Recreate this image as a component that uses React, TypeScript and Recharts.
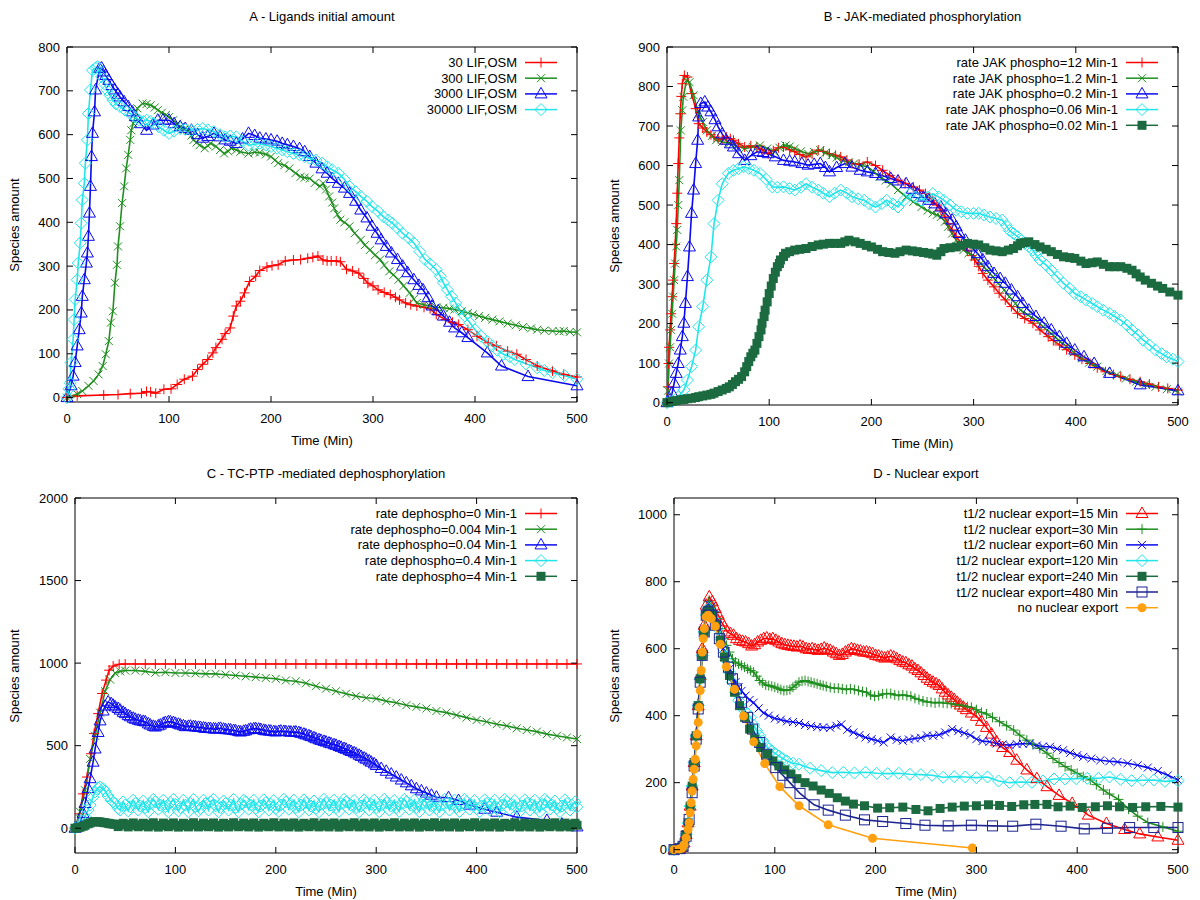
import React from 'react';
import { LineChart, Line, XAxis, YAxis, ReferenceArea, Legend } from 'recharts';

type P = [number, number];
type Shape = 'plus' | 'cross' | 'tri' | 'diamond' | 'fsquare' | 'osquare' | 'fcircle';

const FONT = '"Liberation Sans", Arial, Helvetica, sans-serif';
const RED = '#ff0000';
const GREEN = '#1f8f1f';
const BLUE = '#0a0af0';
const CYAN = '#22e5ea';
const DKGREEN = '#1c6b40';
const NAVY = '#1c2590';
const ORANGE = '#ffa010';

const X_TICKS = [0, 100, 200, 300, 400, 500];
const A_TICKS = [0, 100, 200, 300, 400, 500, 600, 700, 800];
const B_TICKS = [0, 100, 200, 300, 400, 500, 600, 700, 800, 900];
const C_TICKS = [0, 500, 1000, 1500, 2000];
const D_TICKS = [0, 200, 400, 600, 800, 1000];

// ---------- Panel A : Ligands initial amount ----------
const A_30: P[] = [[0,0],[10,4],[36,6],[50,7],[62,9],[73,10],[78,14],[82,13],[87,10],[95,19],[102,20],[108,30],[115,42],[123,49],[128,64],[133,76],[138,87],[143,102],[146,114],[152,133],[155,146],[160,159],[163,186],[166,209],[170,220],[174,239],[179,265],[185,277],[189,290],[196,298],[201,301],[207,303],[214,312],[222,314],[229,315],[236,318],[241,320],[246,323],[251,314],[255,312],[259,312],[264,312],[268,310],[274,293],[280,289],[286,284],[291,272],[295,261],[300,255],[305,246],[311,240],[317,235],[322,229],[326,223],[332,216],[337,212],[343,209],[350,206],[356,203],[362,190],[371,178],[378,172],[384,167],[393,155],[402,140],[413,125],[421,118],[432,106],[441,99],[450,87],[461,72],[476,61],[487,53],[500,47]];
const A_300: P[] = [[0,0],[10,8],[15,15],[21,27],[26,38],[31,53],[35,72],[38,99],[41,129],[43,171],[45,197],[47,262],[49,303],[50,345],[52,391],[54,444],[56,482],[58,523],[60,554],[62,588],[63,610],[65,626],[69,660],[74,671],[78,670],[82,667],[86,662],[89,656],[93,650],[97,645],[100,640],[104,633],[108,625],[111,618],[115,612],[119,610],[122,598],[124,588],[127,582],[130,576],[135,569],[138,575],[141,580],[146,573],[150,565],[154,557],[158,562],[161,569],[166,565],[170,561],[178,557],[184,560],[189,559],[195,555],[200,550],[204,542],[207,535],[213,530],[218,523],[224,512],[229,504],[233,502],[238,500],[243,490],[248,482],[251,489],[254,475],[257,459],[260,445],[262,432],[265,418],[268,406],[272,400],[277,391],[282,375],[288,360],[292,348],[297,337],[302,325],[307,315],[311,302],[316,288],[320,280],[325,269],[330,255],[336,239],[340,225],[343,216],[350,212],[356,209],[362,206],[369,205],[375,203],[380,201],[387,197],[393,193],[398,190],[404,186],[410,182],[417,178],[424,174],[432,169],[440,165],[447,161],[455,158],[461,155],[468,153],[476,152],[483,151],[487,152],[493,150],[500,149]];
const A_3000: P[] = [[0,0],[4,27],[6,49],[8,80],[10,118],[12,155],[14,193],[15,231],[17,269],[19,307],[20,330],[21,368],[22,421],[23,482],[24,550],[25,603],[27,652],[28,702],[32,751],[34,752],[36,743],[38,735],[41,724],[44,712],[47,702],[50,692],[52,686],[56,675],[60,664],[64,652],[67,641],[72,625],[78,610],[84,622],[89,633],[94,633],[100,633],[105,625],[111,618],[116,614],[122,610],[128,600],[133,592],[138,596],[144,603],[150,595],[155,588],[160,585],[166,580],[172,590],[178,603],[184,598],[189,592],[195,590],[200,588],[206,585],[211,580],[216,577],[222,573],[228,568],[233,561],[238,550],[244,535],[250,522],[255,512],[260,500],[266,489],[272,478],[277,466],[283,448],[288,428],[294,410],[299,391],[304,375],[308,360],[313,345],[318,330],[324,315],[329,300],[334,285],[340,269],[345,256],[349,246],[354,228],[358,209],[364,198],[369,186],[375,172],[380,159],[387,148],[393,137],[412,102],[426,72],[452,48],[500,27]];
const A_30000: P[] = [[0,0],[2,20],[3,34],[4,80],[6,133],[7,178],[8,224],[10,269],[11,307],[13,353],[14,398],[15,451],[17,489],[18,535],[20,588],[21,648],[23,702],[25,747],[28,752],[30,755],[34,732],[37,715],[39,702],[42,690],[45,679],[48,670],[52,664],[57,656],[62,648],[67,640],[71,633],[75,630],[78,633],[82,630],[85,626],[90,618],[95,610],[100,603],[105,608],[111,614],[116,612],[122,610],[128,612],[133,614],[138,611],[144,607],[150,600],[155,595],[160,597],[166,595],[172,585],[178,576],[184,578],[189,580],[195,576],[200,573],[206,569],[211,565],[216,561],[222,557],[228,554],[233,550],[238,546],[244,542],[250,535],[255,527],[260,520],[266,512],[272,498],[277,482],[283,470],[288,459],[294,448],[299,436],[305,425],[310,413],[315,405],[319,398],[324,387],[329,375],[335,364],[340,353],[346,333],[351,315],[356,305],[362,292],[366,277],[369,262],[373,246],[377,231],[381,216],[384,201],[390,186],[395,171],[400,155],[406,140],[412,128],[417,118],[422,108],[428,99],[434,93],[439,87],[450,77],[461,68],[468,62],[476,57],[488,50],[500,42]];

// ---------- Panel B : JAK-mediated phosphorylation ----------
const B_12: P[] = [[0,0],[1,40],[1.5,99],[2,140],[3,184],[4,225],[5,268],[6,310],[7,352],[8,400],[9,453],[10,530],[11,605],[12,670],[13,731],[14,775],[15,807],[17,828],[20,824],[24,782],[28,744],[31,706],[35,695],[39,685],[43,678],[46,672],[50,668],[54,665],[58,672],[62,668],[65,664],[70,655],[76,647],[82,650],[88,647],[93,640],[99,630],[104,638],[109,645],[114,647],[120,640],[125,635],[130,628],[136,622],[142,630],[148,639],[153,636],[159,630],[165,626],[170,622],[176,614],[181,605],[188,603],[196,609],[204,600],[211,588],[218,575],[226,563],[233,555],[241,546],[247,538],[253,529],[257,520],[260,512],[264,500],[268,487],[272,470],[275,453],[279,437],[283,420],[288,403],[294,386],[298,372],[301,361],[305,345],[309,327],[314,310],[320,293],[325,277],[331,260],[337,243],[343,226],[350,213],[358,201],[365,184],[373,167],[378,157],[384,146],[391,134],[399,121],[406,110],[414,99],[421,88],[429,78],[437,71],[444,66],[453,59],[463,53],[472,47],[481,40],[490,36],[500,32]];
const B_1_2: P[] = [[0,0],[1,30],[2,99],[3,140],[4,184],[5,225],[6,268],[7,310],[8,352],[9,395],[10,437],[11,500],[12,563],[13.5,689],[15,740],[16,774],[19,815],[22,811],[26,778],[31,731],[35,710],[39,689],[44,675],[48,664],[54,660],[61,656],[68,650],[76,643],[84,647],[91,651],[98,643],[105,635],[110,645],[116,651],[120,648],[125,643],[131,636],[138,630],[144,634],[150,639],[155,632],[161,626],[166,620],[172,613],[178,608],[183,605],[190,600],[196,597],[202,585],[208,571],[214,562],[219,554],[226,538],[234,521],[241,508],[249,495],[255,486],[260,479],[264,475],[268,470],[272,458],[275,445],[279,428],[283,411],[287,398],[290,386],[295,378],[301,369],[307,352],[313,335],[319,318],[324,302],[330,285],[335,268],[341,251],[346,234],[353,222],[361,209],[368,192],[376,175],[383,158],[391,142],[398,127],[406,112],[413,101],[421,91],[430,80],[440,70],[449,61],[459,53],[468,46],[478,40],[489,34],[500,28]];
const B_0_2: P[] = [[0,0],[3,7],[5,24],[7,49],[9,74],[11,99],[13,133],[15,167],[16.5,201],[18,251],[20,319],[22,394],[24,479],[26,538],[28,605],[30,664],[31,723],[33,757],[37,761],[40,748],[43,736],[47,716],[50,698],[54,680],[58,664],[62,655],[65,647],[70,630],[76,613],[82,625],[88,635],[94,633],[99,630],[106,622],[114,613],[120,611],[125,609],[132,605],[138,601],[144,603],[150,605],[155,595],[159,584],[166,595],[174,605],[181,596],[189,588],[196,584],[204,580],[211,574],[219,567],[226,561],[234,554],[240,540],[245,529],[251,520],[256,512],[262,503],[268,495],[273,478],[279,462],[283,445],[286,428],[292,411],[298,394],[304,377],[309,361],[314,344],[320,327],[326,314],[331,302],[337,285],[343,268],[348,251],[354,234],[361,218],[369,201],[376,184],[384,167],[391,150],[399,133],[408,116],[418,99],[433,74],[463,45],[500,30]];
const B_0_06: P[] = [[0,0],[5,3],[11,15],[16.5,32],[20,57],[24,91],[28,133],[31,192],[35,243],[39,310],[43,369],[46,453],[50,512],[54,554],[60,580],[65,588],[70,592],[75,597],[80,593],[85,588],[91,580],[97,565],[103,546],[108,545],[114,546],[120,542],[125,538],[131,545],[136,554],[142,545],[148,538],[153,530],[159,521],[164,530],[170,538],[176,530],[181,521],[187,516],[193,512],[198,503],[204,495],[210,503],[215,512],[221,503],[226,495],[232,512],[238,529],[243,520],[249,512],[255,520],[260,529],[266,520],[271,512],[277,500],[283,487],[288,483],[294,479],[300,479],[305,479],[310,475],[316,470],[322,466],[328,462],[332,448],[335,436],[339,428],[343,420],[347,411],[350,403],[354,395],[358,386],[361,374],[365,361],[371,348],[376,335],[382,318],[388,302],[394,289],[399,276],[405,268],[410,260],[416,251],[421,243],[427,234],[433,226],[438,218],[444,209],[450,196],[455,184],[461,171],[466,158],[472,146],[478,133],[484,124],[489,116],[495,110],[500,104]];
const B_0_02: P[] = [[0,0],[5,3],[9,5],[13,7],[16.5,8],[20,10],[24,11],[28,13],[31,15],[35,17],[39,19],[43,21],[46,24],[50,28],[54,32],[58,36],[61,40],[64,46],[67,53],[70,59],[73,66],[76,78],[78,91],[80,104],[82,116],[84,125],[86,133],[88,150],[90,167],[92,184],[93,201],[95,218],[96,234],[98,255],[100,276],[102,295],[104,314],[106,330],[108,344],[110,352],[111,361],[114,370],[116,378],[120,382],[125,386],[130,388],[136,390],[142,395],[148,399],[153,401],[159,403],[164,403],[170,403],[174,407],[178,411],[184,407],[189,403],[195,398],[200,394],[206,388],[211,382],[217,380],[223,378],[228,382],[234,386],[240,384],[245,382],[251,380],[256,378],[260,376],[264,373],[268,382],[271,390],[277,392],[283,394],[288,398],[294,403],[300,401],[305,399],[311,392],[316,386],[322,384],[328,382],[334,386],[339,390],[343,397],[346,403],[350,405],[354,407],[360,400],[365,394],[371,388],[376,382],[382,375],[388,369],[394,367],[399,365],[405,358],[410,352],[416,354],[421,356],[427,350],[433,344],[438,344],[444,344],[450,340],[455,335],[459,326],[463,318],[468,310],[474,302],[480,295],[485,289],[492,280],[500,272]];

// ---------- Panel C : TC-PTP mediated dephosphorylation ----------
const C_0: P[] = [[0,0],[4.5,87],[8,208],[12,310],[16,451],[19,573],[23,694],[27,816],[31,897],[34,957],[38,982],[44,993],[50,995],[60,995],[70,995],[80,995],[90,995],[100,995],[110,995],[120,995],[130,995],[140,995],[150,995],[160,995],[170,995],[180,995],[190,995],[200,995],[210,995],[220,995],[230,995],[240,995],[250,995],[260,995],[270,995],[280,995],[290,995],[300,995],[310,995],[320,995],[330,995],[340,995],[350,995],[360,995],[370,995],[380,995],[390,995],[400,995],[410,995],[420,995],[430,995],[440,995],[450,995],[460,995],[470,995],[480,995],[490,995],[500,995]];
const C_0_004: P[] = [[0,0],[5,100],[10,230],[15,420],[20,560],[25,700],[30,830],[35,900],[40,940],[45,950],[50,955],[60,955],[70,950],[80,942],[90,945],[100,940],[110,940],[120,938],[130,935],[140,935],[150,930],[160,925],[170,920],[180,915],[190,910],[200,905],[210,895],[220,890],[230,878],[240,860],[250,845],[260,830],[270,815],[280,800],[290,790],[300,785],[310,770],[320,760],[330,745],[340,735],[350,725],[360,710],[370,700],[380,685],[390,670],[400,655],[410,645],[420,630],[430,620],[440,605],[450,595],[460,585],[470,570],[480,560],[490,550],[500,540]];
const C_0_04: P[] = [[0,0],[5,30],[8,90],[10,150],[13,240],[15,300],[18,400],[20,480],[23,580],[25,650],[28,710],[30,740],[33,765],[36,755],[38,745],[40,735],[43,725],[45,715],[48,702],[50,694],[53,682],[55,675],[58,666],[60,660],[63,654],[65,650],[68,647],[70,644],[73,632],[75,625],[78,617],[80,613],[83,620],[85,625],[88,635],[90,640],[93,645],[95,644],[98,640],[100,635],[103,630],[105,625],[108,620],[110,615],[113,617],[115,618],[118,615],[120,613],[123,611],[125,610],[128,607],[130,605],[133,604],[135,603],[138,601],[140,600],[143,603],[145,605],[148,600],[150,597],[153,596],[155,595],[158,592],[160,590],[163,585],[165,583],[168,587],[170,590],[173,596],[175,600],[178,602],[180,603],[183,600],[185,598],[188,593],[190,590],[193,589],[195,588],[198,585],[200,583],[203,586],[205,588],[208,586],[210,585],[213,583],[215,582],[218,582],[220,583],[223,579],[225,575],[228,570],[230,565],[233,560],[235,555],[238,548],[240,542],[243,536],[245,532],[248,526],[250,522],[253,516],[255,512],[258,506],[260,502],[263,495],[265,490],[268,483],[270,478],[273,470],[275,465],[278,457],[280,451],[283,442],[285,435],[288,425],[290,418],[293,408],[295,400],[298,390],[300,380],[305,362],[310,345],[315,328],[320,310],[325,292],[330,275],[335,257],[340,239],[345,226],[350,213],[355,200],[360,188],[372,185],[382,168],[393,140],[408,115],[420,97],[440,67],[470,47],[485,25],[500,8]];
const C_0_4: P[] = [[0,0],[5,15],[8,45],[10,70],[13,110],[15,140],[18,190],[20,220],[23,245],[25,250],[28,240],[30,225],[33,195],[36,170],[38,158],[40,150],[43,120],[45,110],[48,160],[50,140],[53,105],[55,130],[58,170],[60,150],[63,110],[65,135],[68,165],[70,125],[73,100],[75,150],[78,175],[80,160],[83,115],[85,140],[88,170],[90,130],[93,100],[95,155],[98,175],[100,145],[103,105],[105,125],[108,170],[110,140],[113,100],[115,150],[118,175],[120,130],[123,105],[125,120],[128,170],[130,150],[133,110],[135,160],[138,175],[140,135],[143,100],[145,125],[148,165],[150,150],[153,110],[155,140],[158,175],[160,125],[163,100],[165,145],[168,170],[170,160],[173,115],[175,140],[178,170],[180,120],[183,100],[185,135],[188,172],[190,155],[193,110],[195,145],[198,168],[200,120],[203,102],[205,140],[208,175],[210,160],[213,115],[215,145],[218,170],[220,125],[223,100],[225,140],[228,172],[230,155],[233,110],[235,135],[238,165],[240,120],[243,100],[245,145],[248,175],[250,155],[253,110],[255,140],[258,170],[260,125],[263,102],[265,150],[268,175],[270,160],[273,115],[275,140],[278,168],[280,125],[283,100],[285,135],[288,172],[290,155],[293,110],[295,145],[298,170],[300,125],[303,100],[305,140],[308,175],[310,155],[313,110],[315,135],[318,168],[320,125],[323,102],[325,150],[328,175],[330,160],[333,115],[335,140],[338,170],[340,125],[343,100],[345,145],[348,172],[350,155],[353,110],[355,135],[358,165],[360,120],[363,100],[365,140],[368,175],[370,155],[373,110],[375,145],[378,170],[380,125],[383,102],[385,140],[388,175],[390,160],[393,115],[395,140],[398,168],[400,120],[403,100],[405,135],[408,172],[410,150],[413,110],[415,145],[418,170],[420,125],[423,100],[425,140],[428,175],[430,160],[433,115],[435,145],[438,168],[440,125],[443,102],[445,135],[448,172],[450,150],[453,110],[455,140],[458,170],[460,125],[463,100],[465,145],[468,175],[470,160],[473,115],[475,140],[478,165],[480,120],[483,100],[485,135],[488,172],[490,150],[493,110],[495,140],[498,160],[500,130]];
const C_4: P[] = [[0,0],[3,3],[5,6],[8,12],[10,18],[13,27],[15,32],[18,38],[20,40],[23,39],[25,38],[28,35],[30,33],[33,30],[35,27],[38,25],[40,24],[43,10],[45,20],[48,30],[50,22],[53,8],[55,18],[58,32],[60,21],[63,9],[65,17],[68,30],[70,20],[73,8],[75,23],[78,33],[80,18],[83,7],[85,16],[88,31],[90,20],[93,9],[95,22],[98,32],[100,18],[103,7],[105,15],[108,30],[110,19],[113,8],[115,22],[118,33],[120,19],[123,8],[125,16],[128,31],[130,20],[133,9],[135,23],[138,32],[140,18],[143,7],[145,15],[148,30],[150,19],[153,8],[155,22],[158,33],[160,18],[163,9],[165,16],[168,31],[170,21],[173,8],[175,23],[178,32],[180,18],[183,7],[185,15],[188,30],[190,20],[193,9],[195,22],[198,33],[200,17],[203,8],[205,15],[208,31],[210,19],[213,8],[215,23],[218,32],[220,19],[223,7],[225,16],[228,30],[230,20],[233,9],[235,22],[238,33],[240,18],[243,8],[245,15],[248,31],[250,19],[253,8],[255,23],[258,32],[260,20],[263,7],[265,16],[268,30],[270,18],[273,9],[275,22],[278,33],[280,19],[283,8],[285,15],[288,31],[290,18],[293,8],[295,22],[298,32],[300,20],[303,7],[305,16],[308,30],[310,19],[313,9],[315,23],[318,33],[320,19],[323,8],[325,15],[328,31],[330,18],[333,8],[335,22],[338,32],[340,20],[343,7],[345,16],[348,30],[350,19],[353,9],[355,23],[358,33],[360,18],[363,8],[365,15],[368,31],[370,19],[373,8],[375,22],[378,32],[380,20],[383,7],[385,16],[388,30],[390,18],[393,9],[395,22],[398,33],[400,19],[403,8],[405,15],[408,31],[410,19],[413,8],[415,23],[418,32],[420,20],[423,7],[425,16],[428,30],[430,18],[433,9],[435,22],[438,33],[440,19],[443,8],[445,15],[448,31],[450,18],[453,8],[455,22],[458,32],[460,20],[463,7],[465,16],[468,30],[470,19],[473,9],[475,23],[478,33],[480,18],[483,8],[485,15],[488,31],[490,19],[493,8],[495,22],[498,30],[500,18]];

// ---------- Panel D : Nuclear export ----------
const D_15: P[] = [[0,0],[5,2],[8,8],[10,20],[12,45],[14,80],[16,130],[18,190],[20,260],[22,340],[24,430],[26,520],[28,600],[30,670],[32,730],[35,755],[38,740],[41,720],[44,700],[47,680],[50,665],[53,650],[56,645],[59,640],[62,630],[65,625],[68,622],[71,620],[74,615],[77,608],[80,612],[83,620],[86,625],[89,630],[92,632],[95,628],[98,630],[101,625],[104,620],[107,615],[110,612],[113,610],[116,608],[119,607],[122,605],[125,608],[128,605],[131,600],[134,598],[137,600],[140,597],[143,595],[146,598],[149,602],[152,598],[155,595],[158,590],[161,585],[164,580],[167,583],[170,590],[173,595],[176,600],[179,598],[182,595],[185,593],[188,590],[191,590],[194,588],[197,585],[200,580],[203,578],[206,575],[209,572],[212,575],[215,578],[218,575],[221,570],[224,565],[227,560],[230,558],[233,552],[236,548],[239,540],[242,535],[245,528],[248,520],[251,512],[254,505],[257,500],[260,495],[263,490],[266,480],[269,470],[272,462],[275,455],[278,448],[281,440],[284,432],[287,425],[290,418],[295,408],[300,398],[305,383],[310,365],[315,345],[320,322],[326,305],[333,290],[340,267],[350,238],[360,212],[370,188],[382,162],[395,138],[411,103],[429,78],[447,60],[462,47],[480,38],[500,28]];
const D_30: P[] = [[0,0],[5,2],[8,8],[10,20],[12,45],[14,80],[16,130],[18,190],[20,260],[22,340],[24,430],[26,510],[28,590],[30,660],[32,710],[34,740],[37,730],[40,710],[43,690],[46,660],[49,630],[52,610],[55,590],[58,570],[61,560],[64,555],[67,550],[70,545],[73,540],[76,535],[79,530],[82,518],[85,505],[88,498],[91,492],[94,490],[97,488],[100,485],[103,482],[106,478],[109,475],[112,476],[115,478],[118,485],[121,492],[124,500],[127,503],[130,505],[133,502],[136,500],[139,497],[142,495],[145,492],[148,490],[151,487],[155,484],[159,482],[163,482],[167,480],[171,478],[175,480],[179,478],[183,475],[187,472],[191,470],[195,462],[199,458],[203,460],[207,465],[211,466],[215,466],[219,462],[223,460],[227,462],[231,460],[235,458],[239,452],[243,448],[247,444],[251,441],[255,440],[259,438],[263,440],[267,438],[271,437],[275,436],[279,433],[283,432],[287,430],[291,427],[295,425],[300,418],[305,410],[310,405],[316,395],[323,382],[330,370],[337,357],[343,342],[350,327],[356,315],[363,302],[370,288],[376,272],[382,260],[388,248],[394,238],[400,228],[406,218],[413,208],[419,194],[426,178],[432,166],[441,150],[451,121],[460,100],[470,81],[485,68],[500,55]];
const D_60: P[] = [[0,0],[5,2],[8,8],[10,20],[12,45],[14,80],[16,130],[18,190],[20,260],[22,340],[24,430],[26,510],[28,590],[30,660],[32,710],[34,735],[37,725],[40,700],[43,670],[46,630],[49,600],[52,570],[55,540],[58,515],[61,500],[64,485],[67,474],[71,460],[75,447],[79,439],[84,422],[89,408],[94,400],[100,392],[106,388],[112,383],[118,381],[124,378],[130,372],[136,369],[142,366],[148,365],[155,364],[161,370],[166,374],[172,358],[178,350],[184,342],[190,335],[196,330],[202,325],[208,320],[215,335],[221,328],[227,325],[233,329],[239,332],[245,334],[251,341],[257,340],[263,343],[269,350],[276,360],[282,354],[288,348],[294,342],[300,330],[306,324],[313,322],[320,317],[326,314],[333,312],[340,315],[346,316],[353,317],[360,311],[366,308],[373,307],[380,301],[386,297],[393,289],[400,282],[406,277],[414,272],[423,267],[432,264],[440,262],[450,258],[460,252],[470,245],[480,235],[490,222],[500,208]];
const D_120: P[] = [[0,0],[5,2],[8,8],[10,20],[12,45],[14,80],[16,130],[18,190],[20,260],[22,340],[24,430],[26,510],[28,580],[30,650],[32,700],[34,720],[37,705],[40,685],[43,660],[46,630],[49,600],[52,565],[55,530],[58,500],[61,470],[64,445],[67,425],[70,415],[73,405],[76,395],[79,372],[82,355],[85,340],[88,325],[91,312],[94,300],[97,295],[100,288],[104,280],[108,272],[112,265],[118,258],[124,255],[135,243],[146,236],[157,230],[168,231],[179,229],[190,231],[201,228],[212,227],[223,228],[234,225],[245,224],[256,222],[267,216],[278,218],[289,217],[300,215],[311,217],[322,205],[333,200],[344,202],[355,201],[366,205],[377,211],[388,211],[399,212],[410,213],[421,213],[432,217],[443,210],[454,206],[465,207],[476,208],[487,204],[500,206]];
const D_240: P[] = [[0,0],[5,2],[8,8],[10,20],[12,45],[14,80],[16,130],[18,190],[20,260],[22,340],[24,430],[26,510],[28,580],[30,650],[32,700],[34,715],[38,700],[42,670],[46,625],[50,575],[55,520],[60,470],[65,430],[70,395],[75,360],[80,330],[86,305],[92,285],[98,265],[104,250],[110,238],[116,226],[122,212],[130,200],[138,190],[146,178],[154,168],[162,155],[170,145],[178,136],[189,131],[202,124],[214,125],[227,127],[240,120],[252,116],[264,123],[276,127],[288,130],[300,131],[312,134],[323,132],[335,129],[347,134],[358,135],[370,135],[381,128],[393,130],[405,126],[418,128],[430,131],[442,128],[455,126],[468,128],[483,129],[500,127]];
const D_480: P[] = [[0,0],[6,3],[9,10],[12,40],[15,90],[18,170],[20,250],[22,330],[24,420],[26,500],[28,580],[30,650],[32,700],[34,710],[37,700],[41,670],[45,630],[49,590],[54,545],[58,510],[62,480],[67,440],[73,395],[78,360],[85,320],[92,285],[101,245],[108,222],[115,200],[125,168],[139,134],[153,118],[170,103],[189,89],[207,84],[230,78],[249,73],[272,71],[295,73],[316,71],[336,70],[359,76],[384,70],[407,62],[430,64],[452,66],[476,66],[500,66]];
const D_NONE: P[] = [[0,0],[5,2],[8,5],[10,15],[12,35],[14,60],[15,80],[16,110],[17,140],[18,175],[19,210],[20,240],[21,270],[22,310],[23,345],[24,380],[25,425],[26,475],[27,535],[28,590],[29,630],[30,660],[32,695],[34,700],[37,690],[41,667],[46,613],[52,546],[60,479],[69,399],[79,322],[90,257],[105,188],[124,131],[153,74],[197,34],[296,5]];

interface SeriesCfg { name: string; data: P[]; color: string; shape: Shape; }
interface PanelCfg {
  title: string;
  box: { x: number; y: number; w: number; h: number };
  plot: { l: number; r: number; t: number; b: number };
  yDomain: [number, number];
  yTicks: number[];
  series: SeriesCfg[];
}

function Marker({ x, y, shape, color }: { x: number; y: number; shape: Shape; color: string }) {
  const sw = 1;
  switch (shape) {
    case 'plus':
      return (<g stroke={color} strokeWidth={sw}><line x1={x - 5} x2={x + 5} y1={y} y2={y} /><line x1={x} x2={x} y1={y - 5} y2={y + 5} /></g>);
    case 'cross':
      return (<g stroke={color} strokeWidth={sw}><line x1={x - 4} x2={x + 4} y1={y - 4} y2={y + 4} /><line x1={x - 4} x2={x + 4} y1={y + 4} y2={y - 4} /></g>);
    case 'tri':
      return <polygon points={`${x},${y - 6.5} ${x - 6},${y + 4} ${x + 6},${y + 4}`} fill="none" stroke={color} strokeWidth={sw} />;
    case 'diamond':
      return <polygon points={`${x},${y - 6} ${x + 6},${y} ${x},${y + 6} ${x - 6},${y}`} fill="none" stroke={color} strokeWidth={sw} />;
    case 'fsquare':
      return <rect x={x - 4.5} y={y - 4.5} width={9} height={9} fill={color} stroke="none" />;
    case 'osquare':
      return <rect x={x - 5} y={y - 5} width={10} height={10} fill="none" stroke={color} strokeWidth={sw} />;
    case 'fcircle':
      return <circle cx={x} cy={y} r={4.5} fill={color} stroke="none" />;
  }
  return null;
}

const toRows = (d: P[]) => d.map(([t, v]) => ({ t, v }));

function Panel({ cfg }: { cfg: PanelCfg }) {
  const { box, plot } = cfg;
  const YW = 50;
  const XH = 30;
  const margin = {
    left: plot.l - box.x - YW,
    right: box.x + box.w - plot.r,
    top: plot.t - box.y,
    bottom: box.y + box.h - plot.b - XH,
  };
  const pl = plot.l - box.x;
  const pr = plot.r - box.x;
  const pt = plot.t - box.y;
  const pb = plot.b - box.y;

  const xTick = (p: any) => (
    <g key={`xt${p.index}`}>
      <line x1={p.x} x2={p.x} y1={pb} y2={pb - 6} stroke="#000" />
      <line x1={p.x} x2={p.x} y1={pt} y2={pt + 6} stroke="#000" />
      <text x={p.x} y={pb + 21} textAnchor="middle" fontSize={13} fontFamily={FONT} fill="#000">{p.payload.value}</text>
    </g>
  );
  const yTick = (p: any) => (
    <g key={`yt${p.index}`}>
      <line x1={pl} x2={pl + 6} y1={p.y} y2={p.y} stroke="#000" />
      <line x1={pr} x2={pr - 6} y1={p.y} y2={p.y} stroke="#000" />
      <text x={pl - 7} y={p.y + 4.5} textAnchor="end" fontSize={13} fontFamily={FONT} fill="#000">{p.payload.value}</text>
    </g>
  );

  const textRight = 260;
  const legW = 310;
  const step = 15.7;
  const legH = cfg.series.length * step + 12;
  const legendContent = () => (
    <svg width={legW} height={legH} style={{ display: 'block', overflow: 'visible' }}>
      {cfg.series.map((s, i) => {
        const cy = 10.5 + i * step;
        return (
          <g key={s.name}>
            <text x={textRight} y={cy + 4.5} textAnchor="end" fontSize={13} fontFamily={FONT} fill="#000">{s.name}</text>
            <line x1={textRight + 8} x2={textRight + 40} y1={cy} y2={cy} stroke={s.color} strokeWidth={1.5} />
            <Marker x={textRight + 24} y={cy} shape={s.shape} color={s.color} />
          </g>
        );
      })}
    </svg>
  );

  const cx = (pl + pr) / 2;
  const cyMid = (pt + pb) / 2;

  return (
    <div style={{ position: 'absolute', left: box.x, top: box.y, width: box.w, height: box.h }}>
      <div style={{ position: 'absolute', left: cx - 250, top: pt - (box.y === 0 ? 30 : 24) - 8, width: 500, height: 16, lineHeight: '16px', textAlign: 'center', fontFamily: FONT, fontSize: 13, color: '#000' }}>{cfg.title}</div>
      <div style={{ position: 'absolute', left: 15 - 100, top: cyMid - 8, width: 200, height: 16, lineHeight: '16px', textAlign: 'center', fontFamily: FONT, fontSize: 13, color: '#000', transform: 'rotate(-90deg)' }}>Species amount</div>
      <div style={{ position: 'absolute', left: cx - 100, top: pb + 31, width: 200, height: 16, lineHeight: '16px', textAlign: 'center', fontFamily: FONT, fontSize: 13, color: '#000' }}>Time (Min)</div>
      <LineChart width={box.w} height={box.h} margin={margin} style={{ fontFamily: FONT }}>
        <XAxis type="number" dataKey="t" domain={[0, 500]} ticks={X_TICKS} interval={0} tick={xTick} tickLine={false} axisLine={false} height={XH} />
        <YAxis type="number" domain={cfg.yDomain} ticks={cfg.yTicks} interval={0} tick={yTick} tickLine={false} axisLine={false} width={YW} />
        <ReferenceArea x1={0} x2={500} y1={cfg.yDomain[0]} y2={cfg.yDomain[1]} fill="none" fillOpacity={0} stroke="#000" strokeWidth={1} ifOverflow="visible" />
        {cfg.series.map((s) => (
          <Line
            key={s.name}
            name={s.name}
            data={toRows(s.data)}
            dataKey="v"
            type="linear"
            stroke={s.color}
            strokeWidth={1.6}
            isAnimationActive={false}
            activeDot={false}
            dot={(p: any) => <Marker key={`${s.name}-${p.index}`} x={p.cx} y={p.cy} shape={s.shape} color={s.color} />}
          />
        ))}
        <Legend
          layout="vertical"
          align="center"
          verticalAlign="middle"
          content={legendContent}
          wrapperStyle={{ position: 'absolute', left: pr - 60 - textRight, top: pt + 5, width: legW, height: legH }}
        />
      </LineChart>
    </div>
  );
}

const PANELS: PanelCfg[] = [
  {
    title: 'A - Ligands initial amount',
    box: { x: 0, y: 0, w: 600, h: 450 },
    plot: { l: 67, r: 577, t: 47, b: 402 },
    yDomain: [-10, 800],
    yTicks: A_TICKS,
    series: [
      { name: '30 LIF,OSM', data: A_30, color: RED, shape: 'plus' },
      { name: '300 LIF,OSM', data: A_300, color: GREEN, shape: 'cross' },
      { name: '3000 LIF,OSM', data: A_3000, color: BLUE, shape: 'tri' },
      { name: '30000 LIF,OSM', data: A_30000, color: CYAN, shape: 'diamond' },
    ],
  },
  {
    title: 'B - JAK-mediated phosphorylation',
    box: { x: 600, y: 0, w: 600, h: 450 },
    plot: { l: 667, r: 1178, t: 47, b: 405 },
    yDomain: [-6, 900],
    yTicks: B_TICKS,
    series: [
      { name: 'rate JAK phospho=12 Min-1', data: B_12, color: RED, shape: 'plus' },
      { name: 'rate JAK phospho=1.2 Min-1', data: B_1_2, color: GREEN, shape: 'cross' },
      { name: 'rate JAK phospho=0.2 Min-1', data: B_0_2, color: BLUE, shape: 'tri' },
      { name: 'rate JAK phospho=0.06 Min-1', data: B_0_06, color: CYAN, shape: 'diamond' },
      { name: 'rate JAK phospho=0.02 Min-1', data: B_0_02, color: DKGREEN, shape: 'fsquare' },
    ],
  },
  {
    title: 'C - TC-PTP -mediated dephosphorylation',
    box: { x: 0, y: 450, w: 600, h: 450 },
    plot: { l: 75, r: 577, t: 498, b: 853 },
    yDomain: [-150, 2000],
    yTicks: C_TICKS,
    series: [
      { name: 'rate dephospho=0 Min-1', data: C_0, color: RED, shape: 'plus' },
      { name: 'rate dephospho=0.004 Min-1', data: C_0_004, color: GREEN, shape: 'cross' },
      { name: 'rate dephospho=0.04 Min-1', data: C_0_04, color: BLUE, shape: 'tri' },
      { name: 'rate dephospho=0.4 Min-1', data: C_0_4, color: CYAN, shape: 'diamond' },
      { name: 'rate dephospho=4 Min-1', data: C_4, color: DKGREEN, shape: 'fsquare' },
    ],
  },
  {
    title: 'D - Nuclear export',
    box: { x: 600, y: 450, w: 600, h: 450 },
    plot: { l: 674, r: 1178, t: 498, b: 853 },
    yDomain: [-10, 1050],
    yTicks: D_TICKS,
    series: [
      { name: 't1/2 nuclear export=15 Min', data: D_15, color: RED, shape: 'tri' },
      { name: 't1/2 nuclear export=30 Min', data: D_30, color: GREEN, shape: 'plus' },
      { name: 't1/2 nuclear export=60 Min', data: D_60, color: BLUE, shape: 'cross' },
      { name: 't1/2 nuclear export=120 Min', data: D_120, color: CYAN, shape: 'diamond' },
      { name: 't1/2 nuclear export=240 Min', data: D_240, color: DKGREEN, shape: 'fsquare' },
      { name: 't1/2 nuclear export=480 Min', data: D_480, color: NAVY, shape: 'osquare' },
      { name: 'no nuclear export', data: D_NONE, color: ORANGE, shape: 'fcircle' },
    ],
  },
];

export default function App() {
  return (
    <div style={{ position: 'absolute', left: 0, top: 0, width: 1200, height: 900, background: '#fff', overflow: 'hidden' }}>
      {PANELS.map((p) => (
        <Panel key={p.title} cfg={p} />
      ))}
    </div>
  );
}
